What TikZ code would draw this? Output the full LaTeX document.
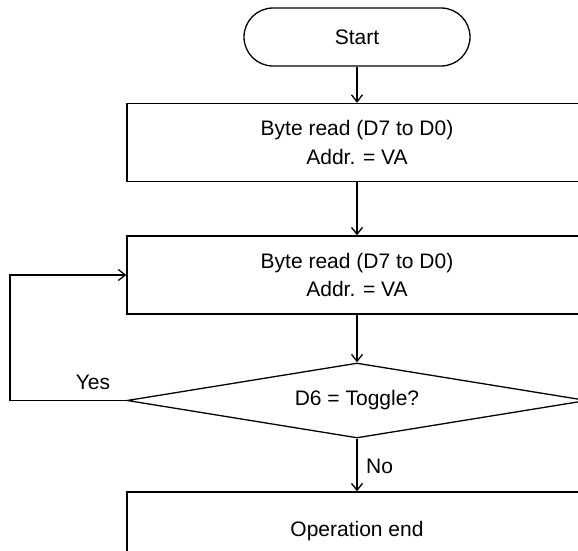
\documentclass[tikz,border=0pt]{standalone}
\usepackage{fontspec}
\setmainfont{Liberation Sans}
\usetikzlibrary{shapes.geometric,arrows.meta}
\begin{document}
\begin{tikzpicture}[x=1pt,y=-1pt,
  every node/.style={font=\fontsize{21}{28.5}\selectfont},
  procbox/.style={draw,line width=1.3pt,minimum width=460pt,minimum height=78pt,inner sep=0pt,align=center},
  termbox/.style={draw,line width=1.3pt,rounded corners=29pt,minimum width=226pt,minimum height=58pt,inner sep=0pt},
  decbox/.style={draw,line width=1.3pt,diamond,aspect=6,minimum width=460pt,minimum height=75pt,inner sep=0pt},
  flow/.style={line width=1.3pt,-{Straight Barb[length=7pt,width=11pt,line width=1.3pt]}},
  lbl/.style={inner sep=0pt}]
\useasboundingbox (0,0) rectangle (578,551);
\clip (0,0) rectangle (578,551);
\fill[white] (0,0) rectangle (578,551);
\node[termbox] (start) at (357,37) {Start};
\node[procbox] (r1) at (357,142.5) {Byte read (D7 to D0)\\Addr. = VA};
\node[procbox] (r2) at (357,275) {Byte read (D7 to D0)\\Addr. = VA};
\node[decbox] (dec) at (357,400.5) {D6 = Toggle?};
\node[procbox,minimum height=79pt] (endb) at (357,531.5) {Operation end};
\coordinate (lp) at (10,400.5);
\draw[flow] (start) -- (r1);
\draw[flow] (r1) -- (r2);
\draw[flow] (r2) -- (dec);
\draw[flow] (dec) -- (endb);
\draw[flow] (dec.west) -- (lp) |- (r2.west);
\node[lbl] (yes) at (93,382) {Yes};
\node[lbl,anchor=west] (no) at (366,466) {No};
\end{tikzpicture}
\end{document}
